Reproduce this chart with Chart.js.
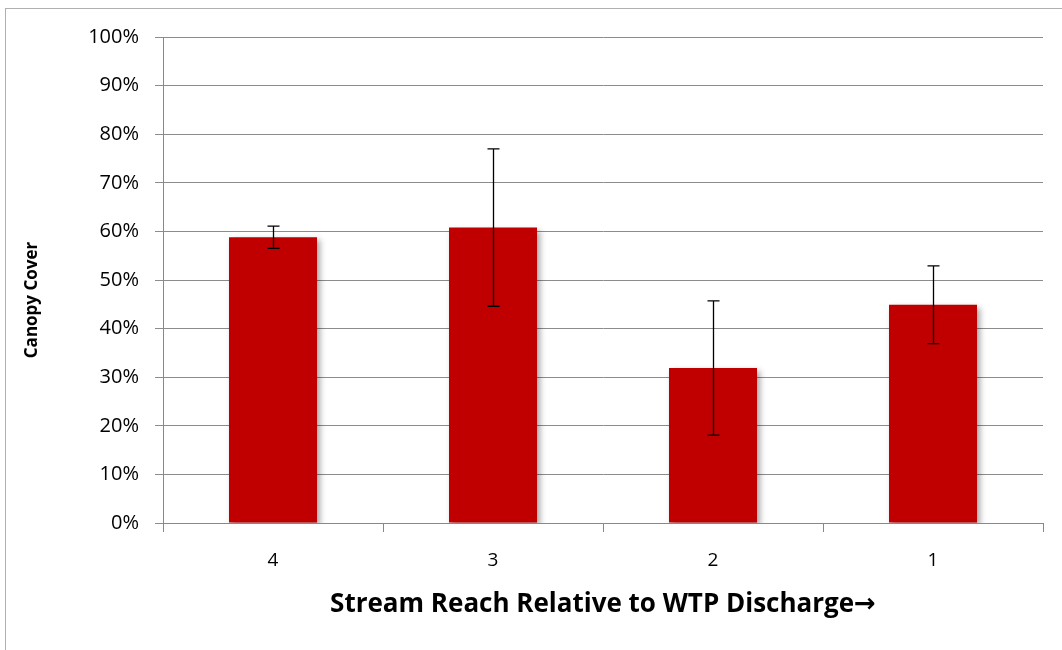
<!DOCTYPE html>
<html>
<head>
<meta charset="utf-8">
<script src="https://cdn.jsdelivr.net/npm/chart.js@4.4.1/dist/chart.umd.min.js"></script>
<style>
  html, body { margin: 0; padding: 0; background: #fff; }
  #wrap { width: 1062px; height: 650px; position: relative; }
</style>
</head>
<body>
<div id="wrap"><canvas id="chart" width="1062" height="650"></canvas></div>
<script>
// data
const reaches = ['4', '3', '2', '1'];
const canopyCover = [58.8, 60.8, 31.9, 44.9];
const canopyErr = [2.3, 16.2, 13.8, 8.0];
const yTicks = [0, 10, 20, 30, 40, 50, 60, 70, 80, 90, 100];
const yTitle = 'Canopy Cover';
const xTitle = 'Stream Reach Relative to WTP Discharge\u2192';

const FONT = '"Open Sans", "DejaVu Sans", sans-serif';

// frame around the figure and the rotated y title (centred on the figure, as in the original)
const framePlugin = {
  id: 'frame',
  beforeDraw(chart) {
    const ctx = chart.ctx;
    ctx.save();
    ctx.fillStyle = '#fff';
    ctx.fillRect(0, 0, chart.width, chart.height);
    ctx.strokeStyle = '#b0b0b0';
    ctx.lineWidth = 1;
    ctx.strokeRect(5.5, 8.5, chart.width + 10, chart.height + 10);
    ctx.restore();
  },
  afterDraw(chart) {
    const ctx = chart.ctx;
    ctx.save();
    ctx.translate(32, 300);
    ctx.rotate(-Math.PI / 2);
    ctx.fillStyle = '#000';
    ctx.font = 'bold 17px ' + FONT;
    ctx.textAlign = 'center';
    ctx.textBaseline = 'middle';
    ctx.fillText(yTitle, 0, 0);
    ctx.restore();
  }
};

// soft shadow behind the bars
const shadowPlugin = {
  id: 'barShadow',
  beforeDatasetDraw(chart) {
    const ctx = chart.ctx;
    ctx.save();
    ctx.shadowColor = 'rgba(0,0,0,0.35)';
    ctx.shadowBlur = 6;
    ctx.shadowOffsetX = 3;
    ctx.shadowOffsetY = 3;
  },
  afterDatasetDraw(chart) {
    chart.ctx.restore();
  }
};

// error bars computed from canopyErr through the y scale
const errorBarPlugin = {
  id: 'errorBars',
  afterDatasetsDraw(chart) {
    const ctx = chart.ctx;
    const y = chart.scales.y;
    const meta = chart.getDatasetMeta(0);
    ctx.save();
    ctx.strokeStyle = '#000';
    ctx.lineWidth = 1.3;
    meta.data.forEach((bar, i) => {
      const v = canopyCover[i];
      const e = canopyErr[i];
      const yTop = y.getPixelForValue(v + e);
      const yBot = y.getPixelForValue(v - e);
      const x = Math.round(bar.x) + 0.5;
      ctx.beginPath();
      ctx.moveTo(x, yTop);
      ctx.lineTo(x, yBot);
      ctx.moveTo(x - 6, yTop);
      ctx.lineTo(x + 6, yTop);
      ctx.moveTo(x - 6, yBot);
      ctx.lineTo(x + 6, yBot);
      ctx.stroke();
    });
    ctx.restore();
  }
};

new Chart(document.getElementById('chart'), {
  type: 'bar',
  data: {
    labels: reaches,
    datasets: [{
      label: yTitle,
      data: canopyCover,
      backgroundColor: '#c00000',
      borderWidth: 0,
      categoryPercentage: 1,
      barPercentage: 0.4
    }]
  },
  options: {
    responsive: false,
    animation: false,
    devicePixelRatio: 1,
    layout: { padding: { top: 37, right: 19, left: 18, bottom: 30 } },
    plugins: {
      legend: { display: false },
      tooltip: { enabled: false }
    },
    scales: {
      x: {
        offset: true,
        grid: {
          drawOnChartArea: false,
          drawTicks: true,
          tickLength: 9,
          color: '#888',
          offset: true
        },
        border: { color: '#888', width: 1 },
        ticks: {
          color: '#000',
          font: { family: FONT, size: 19 },
          padding: 17
        },
        title: {
          display: true,
          text: xTitle,
          color: '#000',
          font: { family: FONT, size: 26, weight: 'bold' },
          padding: { top: 10, bottom: 0 }
        },
        afterFit(scale) { scale.height = 97; }
      },
      y: {
        min: 0,
        max: 100,
        afterBuildTicks(scale) {
          scale.ticks = yTicks.map(v => ({ value: v }));
        },
        grid: {
          color: '#8c8c8c',
          tickLength: 8,
          lineWidth: 1
        },
        border: { color: '#888', width: 1 },
        ticks: {
          color: '#000',
          font: { family: FONT, size: 20 },
          padding: 16,
          callback: v => v + '%'
        },
        afterFit(scale) { scale.width = 145; }
      }
    }
  },
  plugins: [framePlugin, shadowPlugin, errorBarPlugin]
});
</script>
</body>
</html>
